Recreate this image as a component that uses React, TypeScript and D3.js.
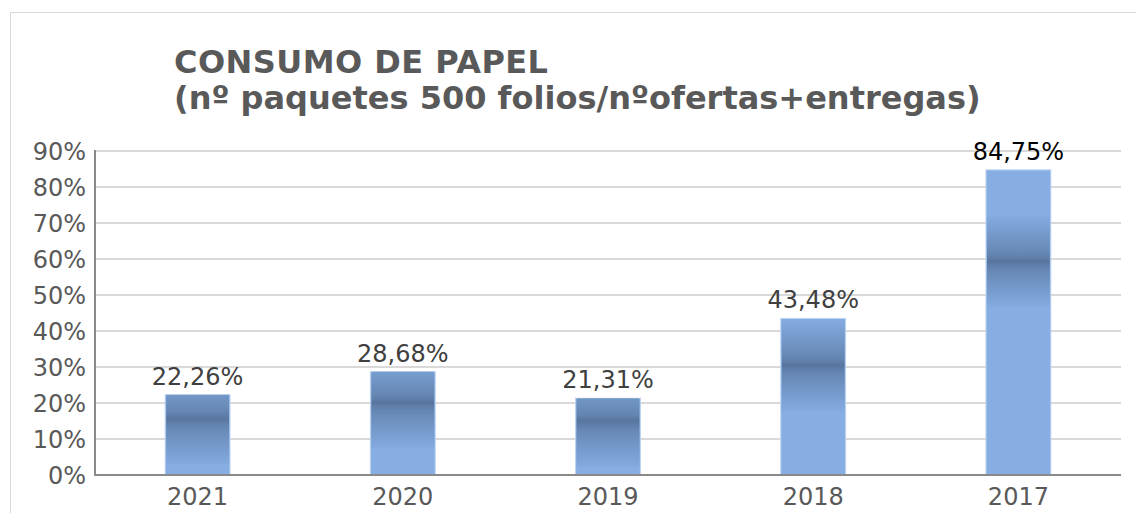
import React from "react";
import * as d3 from "d3";

const categories = ["2021", "2020", "2019", "2018", "2017"];
const values = [22.26, 28.68, 21.31, 43.48, 84.75];
const labels = ["22,26%", "28,68%", "21,31%", "43,48%", "84,75%"];
const yTicks = [0, 10, 20, 30, 40, 50, 60, 70, 80, 90];

const W = 1136;
const H = 513;
const left = 95;
const right = 1121;
const top = 151;
const bottom = 475;

export default function App() {
  const x = d3.scaleBand<string>().domain(categories).range([left, right]).paddingInner(0.684).paddingOuter(0.342);
  const y = d3.scaleLinear().domain([0, 90]).range([bottom, top]);
  const font = "DejaVu Sans, sans-serif";
  return (
    <svg width={W} height={H} style={{ position: "absolute", left: 0, top: 0, background: "#fff" }}>
      <defs>
        <linearGradient id="tex" x1="0" y1="0" x2="0" y2="1">
          <stop offset="0" stopColor="#84abe0" stopOpacity="1" />
          <stop offset="0.2" stopColor="#7398c9" stopOpacity="1" />
          <stop offset="0.42" stopColor="#6282ad" stopOpacity="1" />
          <stop offset="0.5" stopColor="#536f97" stopOpacity="1" />
          <stop offset="0.58" stopColor="#6282ad" stopOpacity="1" />
          <stop offset="0.8" stopColor="#7398c9" stopOpacity="1" />
          <stop offset="1" stopColor="#84abe0" stopOpacity="1" />
        </linearGradient>
        {categories.map((c, i) => (
          <clipPath id={`clip${i}`} key={c}>
            <rect x={x(c)} y={y(values[i])} width={x.bandwidth()} height={bottom - y(values[i])} />
          </clipPath>
        ))}
      </defs>
      <rect x={10.5} y={12.5} width={1140} height={520} fill="#fff" stroke="#d9d9d9" strokeWidth={1} />
      <text x={174} y={73} fontFamily={font} fontWeight="bold" fontSize={32} letterSpacing={0.45} fill="#595959">
        CONSUMO DE PAPEL
      </text>
      <text x={174} y={109} fontFamily={font} fontWeight="bold" fontSize={32} fill="#595959">
        (nº paquetes 500 folios/nºofertas+entregas)
      </text>
      {yTicks.map((t) => (
        <g key={t}>
          {t > 0 && <line x1={left} x2={right} y1={y(t)} y2={y(t)} stroke="#d9d9d9" strokeWidth={2} />}
          <text x={86} y={y(t) + 8.5} textAnchor="end" fontFamily={font} fontSize={24} fill="#595959">
            {t}%
          </text>
        </g>
      ))}
      {categories.map((c, i) => {
        const bx = x(c)!;
        const by = y(values[i]);
        const bh = bottom - by;
        const cy = by + 0.3 * bh;
        return (
          <g key={c}>
            <rect x={bx} y={by} width={x.bandwidth()} height={bh} fill="#86aee3" stroke="#bcd3f0" strokeWidth={1} />
            <g clipPath={`url(#clip${i})`}>
              <rect x={bx + 1} y={cy - 46} width={x.bandwidth() - 2} height={92} fill="url(#tex)" opacity={0.9} />
            </g>
            <text
              x={bx + x.bandwidth() / 2}
              y={by - 10}
              textAnchor="middle"
              fontFamily={font}
              fontSize={24}
              fill={i === 4 ? "#000000" : "#404040"}
            >
              {labels[i]}
            </text>
            <text x={bx + x.bandwidth() / 2} y={505} textAnchor="middle" fontFamily={font} fontSize={24} fill="#595959">
              {c}
            </text>
          </g>
        );
      })}
      <line x1={left} x2={left} y1={top - 1} y2={bottom} stroke="#898989" strokeWidth={2} />
      <line x1={left - 1} x2={right} y1={bottom} y2={bottom} stroke="#898989" strokeWidth={2} />
    </svg>
  );
}
